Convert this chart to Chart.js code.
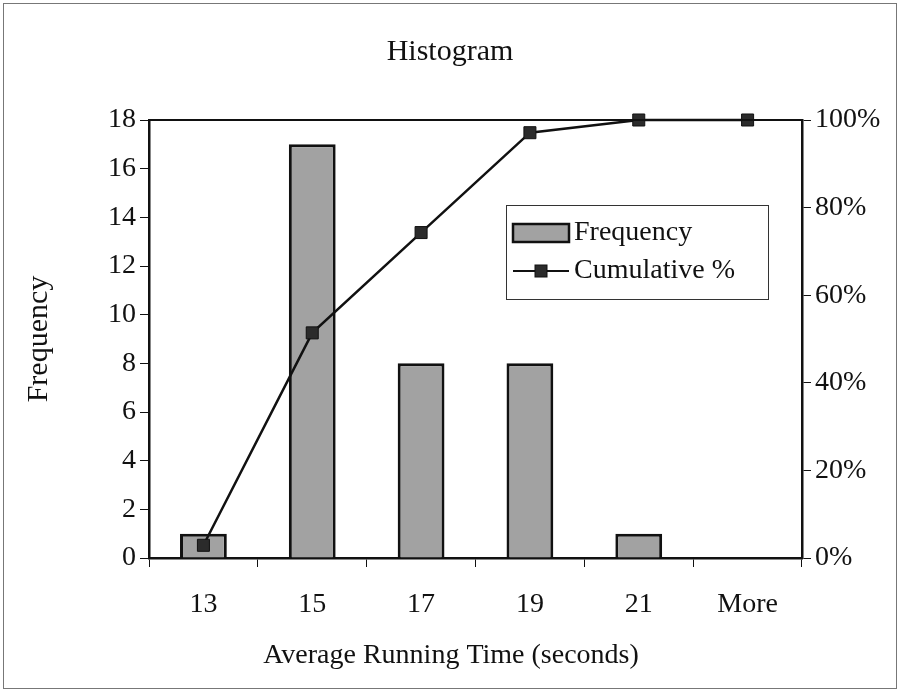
<!DOCTYPE html>
<html>
<head>
<meta charset="utf-8">
<script src="https://cdn.jsdelivr.net/npm/chart.js@4"></script>
<style>
  html, body { margin: 0; padding: 0; background: #fff; }
  #wrap { width: 900px; height: 691px; }
</style>
</head>
<body>
<div id="wrap"><canvas id="histChart" width="900" height="691"></canvas></div>
<script>
// bins and counts
const bins = ["13", "15", "17", "19", "21", "More"];
const frequency = [1, 17, 8, 8, 1, 0];
const cumulativePct = [0.029, 0.514, 0.743, 0.971, 1.0, 1.0];
const freqTicks = { min: 0, max: 18, step: 2 };
const pctTicks = { min: 0, max: 1, step: 0.2 };
const xTitle = "Average Running Time (seconds)";

const serif = "'Liberation Serif', 'Times New Roman', serif";
const ink = "#111";

// outer frame, top edge of the plot, x title and the boxed legend inside the plot
const decorations = {
    id: "decorations",
    afterDraw(chart) {
        const ctx = chart.ctx;
        const a = chart.chartArea;
        ctx.save();

        ctx.strokeStyle = "#777";
        ctx.lineWidth = 1;
        ctx.strokeRect(3.5, 3.5, chart.width - 7, chart.height - 6);

        ctx.strokeStyle = ink;
        ctx.lineWidth = 2;
        ctx.beginPath();
        ctx.moveTo(a.left, a.top);
        ctx.lineTo(a.right, a.top);
        ctx.stroke();

        // x axis title, sits a bit left of the plot centre like the original
        ctx.font = "28px " + serif;
        ctx.fillStyle = ink;
        ctx.textAlign = "center";
        ctx.textBaseline = "middle";
        ctx.fillText(xTitle, 451, 656);

        // legend box
        const bx = 506, by = 205, bw = 262, bh = 94;
        ctx.fillStyle = "#fff";
        ctx.fillRect(bx, by, bw, bh);
        ctx.strokeStyle = "#333";
        ctx.lineWidth = 1;
        ctx.strokeRect(bx + 0.5, by + 0.5, bw, bh);

        const bar = chart.data.datasets[1];
        const line = chart.data.datasets[0];
        ctx.font = "28px " + serif;
        ctx.textAlign = "left";

        // bar entry
        const y1 = by + 28;
        ctx.fillStyle = bar.backgroundColor;
        ctx.fillRect(513, y1 - 9, 56, 18);
        ctx.strokeStyle = ink;
        ctx.lineWidth = 2.5;
        ctx.strokeRect(513, y1 - 9, 56, 18);
        ctx.fillStyle = ink;
        ctx.fillText(bar.label, 574, y1);

        // line entry
        const y2 = by + 66;
        ctx.strokeStyle = ink;
        ctx.lineWidth = 2;
        ctx.beginPath();
        ctx.moveTo(513, y2);
        ctx.lineTo(569, y2);
        ctx.stroke();
        ctx.fillStyle = line.pointBackgroundColor;
        ctx.fillRect(535, y2 - 6, 12, 12);
        ctx.lineWidth = 1;
        ctx.strokeRect(535, y2 - 6, 12, 12);
        ctx.fillStyle = ink;
        ctx.fillText(line.label, 574, y2);

        ctx.restore();
    }
};

const axisGrid = {
    display: true,
    drawOnChartArea: false,
    drawTicks: true,
    tickLength: 9,
    color: ink,
    lineWidth: 1
};

const histChart = new Chart(document.getElementById("histChart"), {
    type: "bar",
    data: {
        labels: bins,
        datasets: [{
            type: "line",
            label: "Cumulative %",
            data: cumulativePct,
            yAxisID: "y1",
            borderColor: ink,
            borderWidth: 2.5,
            pointStyle: "rect",
            pointRadius: 8.5,
            pointHoverRadius: 8.5,
            pointBackgroundColor: "#2b2b2b",
            pointBorderColor: ink,
            pointBorderWidth: 1,
            tension: 0,
            clip: false,
            order: 0
        }, {
            type: "bar",
            label: "Frequency",
            data: frequency,
            yAxisID: "y",
            backgroundColor: "#a2a2a2",
            borderColor: ink,
            borderWidth: 3,
            barPercentage: 0.43,
            categoryPercentage: 1,
            order: 1
        }]
    },
    options: {
        responsive: false,
        animation: false,
        events: [],
        layout: { padding: 0 },
        plugins: {
            legend: { display: false },
            tooltip: { enabled: false },
            title: {
                display: true,
                text: "Histogram",
                color: ink,
                font: { family: serif, size: 30, weight: "normal" },
                padding: { top: 34, bottom: 50 }
            }
        },
        scales: {
            x: {
                offset: true,
                grid: axisGrid,
                border: { display: true, color: ink, width: 2.5 },
                ticks: { color: ink, font: { family: serif, size: 28 }, padding: 21 },
                afterFit(scale) { scale.height = 133; }
            },
            y: {
                position: "left",
                min: freqTicks.min,
                max: freqTicks.max,
                grid: axisGrid,
                border: { display: true, color: ink, width: 2.5 },
                ticks: { stepSize: freqTicks.step, color: ink, font: { family: serif, size: 28 }, padding: 4 },
                title: {
                    display: true,
                    text: "Frequency",
                    color: ink,
                    font: { family: serif, size: 30 },
                    padding: { top: 21 }
                },
                afterFit(scale) { scale.width = 149; }
            },
            y1: {
                position: "right",
                min: pctTicks.min,
                max: pctTicks.max,
                grid: axisGrid,
                border: { display: true, color: ink, width: 2.5 },
                ticks: {
                    stepSize: pctTicks.step,
                    color: ink,
                    font: { family: serif, size: 28 },
                    padding: 4,
                    callback: v => Math.round(v * 100) + "%"
                },
                afterFit(scale) { scale.width = 98; }
            }
        }
    },
    plugins: [decorations]
});
</script>
</body>
</html>
